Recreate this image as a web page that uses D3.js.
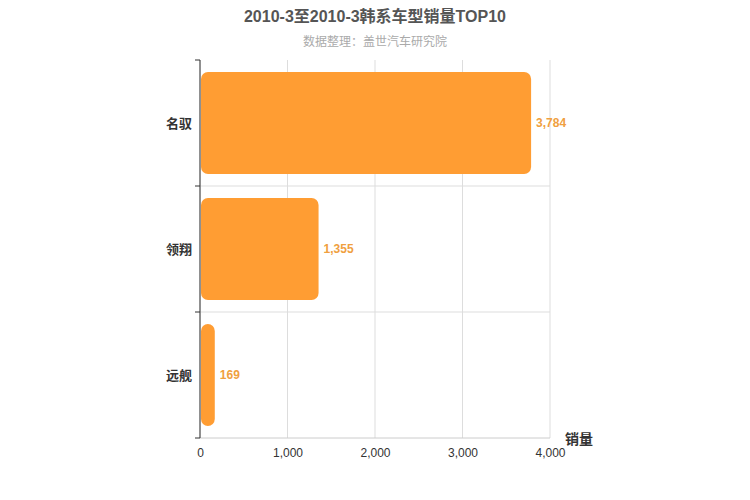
<!DOCTYPE html><html><head><meta charset="utf-8"><script src="https://cdn.jsdelivr.net/npm/d3@7"></script>
<style>body{margin:0;background:#fff}text{font-family:"Liberation Sans","Noto Sans CJK SC",sans-serif}</style></head><body>
<svg id="c" width="750" height="500"></svg>
<script>
const categories=["名驭","领翔","远舰"];
const values=[3784,1355,169];
const xTicks=[0,1000,2000,3000,4000];
const title="2010-3至2010-3韩系车型销量TOP10";
const subtitle="数据整理：盖世汽车研究院";
const svg=d3.select("#c");
const L=200,R=550,T=60,B=438;
const x=d3.scaleLinear().domain([0,4000]).range([L,R]);
const y=d3.scaleBand().domain(categories).range([T,B]).paddingInner(0.19).paddingOuter(0.095);
const yb=d3.scaleBand().domain(categories).range([T,B]);
svg.append("text").attr("x",375).attr("y",22).attr("text-anchor","middle").attr("font-size",16).attr("font-weight","bold").attr("fill","#555").text(title);
svg.append("text").attr("x",375).attr("y",46).attr("text-anchor","middle").attr("font-size",12).attr("fill","#aaa").text(subtitle);
xTicks.forEach(t=>svg.append("line").attr("x1",x(t)).attr("x2",x(t)).attr("y1",T).attr("y2",B).attr("stroke","#ddd"));
categories.forEach((c,i)=>{if(i>0)svg.append("line").attr("x1",L).attr("x2",R).attr("y1",yb(c)).attr("y2",yb(c)).attr("stroke","#ddd");});
svg.append("line").attr("x1",L).attr("x2",R).attr("y1",B).attr("y2",B).attr("stroke","#ccc");
const ax=svg.append("g").attr("transform",`translate(0,${B})`).call(d3.axisBottom(x).tickValues(xTicks).tickFormat(d3.format(",")).tickSize(0).tickPadding(10));
ax.select(".domain").remove();ax.selectAll("text").attr("font-size",12).attr("fill","#333");
svg.append("line").attr("x1",L).attr("x2",L).attr("y1",T).attr("y2",B).attr("stroke","#333");
[T,...categories.slice(1).map(c=>yb(c)),B].forEach(v=>svg.append("line").attr("x1",L-5).attr("x2",L).attr("y1",v).attr("y2",v).attr("stroke","#333"));
categories.forEach(c=>svg.append("text").attr("x",L-8).attr("y",yb(c)+yb.bandwidth()/2).attr("dy","0.35em").attr("text-anchor","end").attr("font-size",13).attr("font-weight","bold").attr("fill","#333").text(c));
svg.selectAll(".bar").data(values).join("rect").attr("x",L+1).attr("y",(d,i)=>y(categories[i])).attr("width",d=>x(d)-L-1).attr("height",y.bandwidth()).attr("rx",7).attr("fill","#ff9d33");
svg.selectAll(".lb").data(values).join("text").attr("x",d=>x(d)+5).attr("y",(d,i)=>y(categories[i])+y.bandwidth()/2).attr("dy","0.35em").attr("font-size",12).attr("font-weight","bold").attr("fill","#f0a040").text(d=>d3.format(",")(d));
svg.append("text").attr("x",565).attr("y",444).attr("font-size",14).attr("font-weight","bold").attr("fill","#333").text("销量");
</script></body></html>
